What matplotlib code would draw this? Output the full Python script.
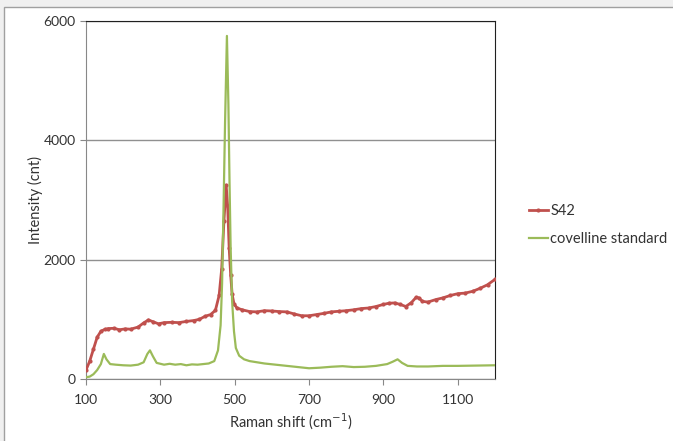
import matplotlib.pyplot as plt
from matplotlib.patches import Rectangle

plt.rcParams['font.family'] = ['Lato', 'DejaVu Sans']

# S42 spectrum (Raman shift cm-1, intensity cnt)
s42_x = [100, 110, 120, 130, 140, 150, 160, 175, 190, 205, 220, 240, 255, 268, 280,
         295, 310, 330, 350, 370, 390, 405, 420, 435, 448, 458, 465, 471, 477, 481,
         485, 489, 493, 498, 506, 520, 540, 560, 580, 600, 620, 640, 660, 680, 700,
         720, 740, 760, 780, 800, 820, 840, 860, 880, 900, 915, 930, 945, 960, 975,
         988, 995, 1005, 1020, 1040, 1060, 1080, 1100, 1120, 1140, 1160, 1180, 1200]
s42_y = [150, 300, 500, 700, 800, 830, 845, 850, 825, 840, 835, 870, 940, 990, 960,
         925, 945, 950, 945, 965, 980, 1000, 1050, 1080, 1150, 1400, 1850, 2650, 3250, 2900,
         2200, 1750, 1420, 1260, 1190, 1160, 1130, 1125, 1145, 1140, 1130, 1125, 1090, 1060, 1060,
         1080, 1100, 1125, 1135, 1145, 1160, 1180, 1190, 1215, 1250, 1270, 1275, 1250, 1215, 1280,
         1370, 1360, 1300, 1290, 1330, 1360, 1400, 1430, 1440, 1470, 1520, 1580, 1670]

# covelline standard spectrum
cov_x = [100, 110, 120, 130, 140, 148, 155, 165, 180, 200, 220, 240, 255, 265, 272,
         280, 290, 310, 325, 340, 355, 370, 385, 400, 415, 430, 445, 455, 462, 466,
         470, 474, 479, 483, 486, 489, 493, 498, 503, 512, 525, 540, 560, 580, 610,
         640, 670, 700, 730, 760, 790, 820, 850, 880, 910, 925, 938, 950, 965, 990,
         1020, 1060, 1100, 1150, 1200]
cov_y = [30, 40, 80, 150, 250, 420, 330, 250, 240, 230, 225, 240, 280, 420, 480,
         380, 270, 240, 255, 240, 250, 230, 245, 240, 250, 260, 300, 480, 900, 1600,
         2900, 4300, 5750, 4600, 3300, 2200, 1300, 800, 520, 390, 330, 300, 280, 260, 240,
         220, 200, 180, 190, 205, 215, 200, 205, 220, 250, 290, 330, 270, 220, 210,
         210, 220, 220, 225, 230]

x_ticks = [100, 300, 500, 700, 900, 1100]
y_ticks = [0, 2000, 4000, 6000]

fig = plt.figure(figsize=(6.73, 4.41), dpi=100, facecolor='#f0f0f0')
fig.patches.append(Rectangle((4 / 673, -0.01), 1.0, (441 - 7) / 441 + 0.01,
                             transform=fig.transFigure, facecolor='white',
                             edgecolor='#a0a0a0', lw=1, zorder=-5))
ax = fig.add_axes([86 / 673, 62 / 441, 409 / 673, 358 / 441])
ax.set_zorder(2)

ax.plot(s42_x, s42_y, color='#c0504d', lw=2, marker='o', ms=2,
        label='S42', zorder=3)
ax.plot(cov_x, cov_y, color='#9bbb59', lw=1.6, label='covelline standard', zorder=4)

ax.set_xlim(100, 1200)
ax.set_ylim(0, 6000)
ax.set_xticks(x_ticks)
ax.set_yticks(y_ticks)
ax.yaxis.grid(True, color='#909090', lw=1)
ax.set_axisbelow(True)

for side in ['left', 'bottom']:
    ax.spines[side].set_color('#888888')
for side in ['top', 'right']:
    ax.spines[side].set_color('#202020')
ax.tick_params(axis='both', direction='out', length=4, color='#888888',
               labelsize=10, labelcolor='#333333')
ax.tick_params(axis='x', pad=7)

ax.set_xlabel('Raman shift (cm$^{-1}$)', fontsize=10.5, color='#333333', labelpad=4)
ax.set_ylabel('Intensity (cnt)', fontsize=10.5, color='#333333', labelpad=0)

ax.legend(loc='center left', bbox_to_anchor=(1.05, 0.43), frameon=False,
          fontsize=10.5, handlelength=1.3, handletextpad=0.2, labelspacing=0.9,
          labelcolor='#333333')

fig.savefig('out.png', dpi=100, facecolor=fig.get_facecolor())
